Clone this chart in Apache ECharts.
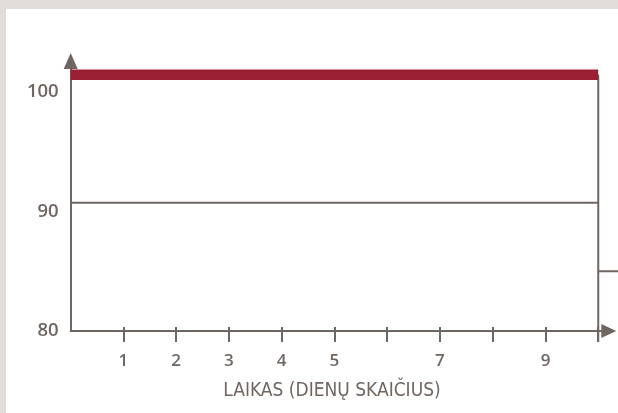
<!DOCTYPE html>
<html>
<head>
<meta charset="utf-8">
<script src="https://cdn.jsdelivr.net/npm/echarts@6/dist/echarts.min.js"></script>
<style>
html,body{margin:0;padding:0;background:#e1ddda;}
#c{width:618px;height:413px;}
</style>
</head>
<body>
<div id="c"></div>
<script>
// ---- data ----
const xTickValues = [1, 2, 3, 4, 5, 6, 7, 8, 9, 10];
const xLabelValues = [1, 2, 3, 4, 5, 7, 9];
const yLabelValues = [80, 90, 100];
const redBand = [[0, 101.45], [10, 101.45]];
const baseLine = [[0, 90.74], [10, 90.74]];
const dropLine = [[10, 101.45], [10, 79.08]];
const stubLine = [[10, 85.0], [11, 85.0]];
const xAxisName = 'LAIKAS (DIENŲ SKAIČIUS)';

const AX = '#6f6661';
const RED = '#9b1f32';
const FONT = "'Open Sans', 'Noto Sans', sans-serif";
const NARROW = "'Liberation Sans Narrow', 'DejaVu Sans Condensed', 'Roboto', sans-serif";

const chart = echarts.init(document.getElementById('c'), null, {renderer: 'canvas'});
const xMin = 0, xMax = 10.2;

function segmentSeries(points, color, width, z) {
  return {
    type: 'custom', clip: false, z: z || 2,
    data: [points[0].concat(points[1])],
    encode: {x: [0, 2], y: [1, 3]},
    renderItem: function (params, api) {
      const a = api.coord([api.value(0), api.value(1)]);
      const b = api.coord([api.value(2), api.value(3)]);
      return {
        type: 'line',
        shape: {x1: a[0], y1: a[1], x2: b[0], y2: b[1]},
        style: {stroke: color, lineWidth: width, lineCap: 'butt'}
      };
    }
  };
}

chart.setOption({
  backgroundColor: '#e1ddda',
  animation: false,
  graphic: [{
    type: 'rect', z: -10, silent: true,
    shape: {x: 6, y: 9, width: 612, height: 404},
    style: {fill: '#ffffff'}
  }],
  title: {
    text: xAxisName,
    left: 327, top: 377, textAlign: 'center',
    textStyle: {fontFamily: NARROW, fontSize: 19, fontWeight: 'normal', color: AX}
  },
  grid: {left: 70.7, right: 9.2, top: 61, bottom: 82, containLabel: false},
  xAxis: [{
    type: 'value', min: xMin, max: xMax, position: 'bottom',
    axisLine: {show: true, lineStyle: {color: AX, width: 2}, symbol: ['none', 'triangle'], symbolSize: [14, 15]},
    axisTick: {show: false},
    splitLine: {show: false},
    axisLabel: {
      customValues: xLabelValues, margin: 22,
      fontFamily: FONT, fontSize: 17, fontWeight: 600, color: AX
    }
  }, {
    type: 'value', min: xMin, max: xMax, position: 'bottom', offset: -4,
    axisLine: {show: false},
    axisTick: {show: true, customValues: xTickValues, length: 15, lineStyle: {color: AX, width: 2}},
    splitLine: {show: false},
    axisLabel: {show: false}
  }],
  yAxis: {
    type: 'value', min: 80, max: 102.6,
    axisLine: {show: true, lineStyle: {color: AX, width: 2}, symbol: ['none', 'triangle'], symbolSize: [14, 16]},
    axisTick: {show: false},
    splitLine: {show: false},
    axisLabel: {
      customValues: yLabelValues, margin: 12,
      fontFamily: FONT, fontSize: 18.5, fontWeight: 600, color: AX
    }
  },
  series: [
    segmentSeries(baseLine, AX, 2, 2),
    segmentSeries(dropLine, AX, 2, 2),
    segmentSeries(stubLine, AX, 2, 2),
    segmentSeries(redBand, RED, 10.5, 5)
  ]
});
</script>
</body>
</html>
